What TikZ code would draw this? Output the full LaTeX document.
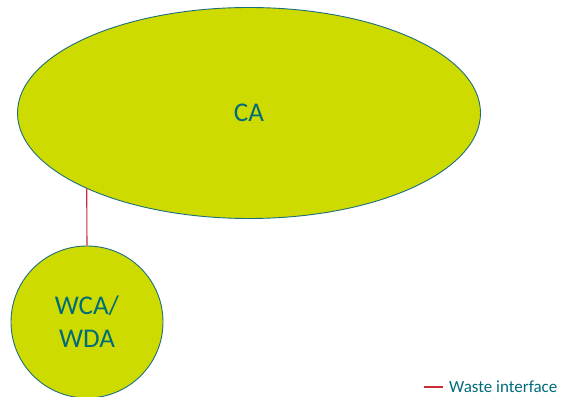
\documentclass[tikz,border=0pt]{standalone}
\usepackage{fontspec}
\setmainfont{Carlito}
\usetikzlibrary{shapes.geometric}
\definecolor{limefill}{RGB}{205,219,0}
\definecolor{tealline}{RGB}{30,110,125}
\definecolor{tealtext}{RGB}{0,108,122}
\definecolor{wastered}{RGB}{200,45,55}
\begin{document}
\begin{tikzpicture}[x=1pt,y=1pt]
            \useasboundingbox (0,0) rectangle (561,396);
            \tikzset{
                body/.style={draw=tealline, fill=limefill, line width=0.9pt, inner sep=0pt, text=tealtext, font=\fontsize{27}{33}\selectfont, align=center},
                waste/.style={draw=wastered, line width=1.1pt}
            }
            \node[body, ellipse, minimum width=463pt, minimum height=211pt] (CA) at (249,283) {CA};
            \node[body, circle, minimum size=152pt] (WCA) at (87,74) {WCA/\\WDA};

            \draw[waste] (WCA.north) -- (CA.205);

            % legend
            \coordinate (L1) at (424,9);
            \coordinate (L2) at (443,9);
            \draw[waste] (L1) -- (L2);
            \node[anchor=west, inner sep=0pt, text=tealtext, font=\fontsize{17}{19}\selectfont] (legend) at (449,9.5) {Waste interface};
        \end{tikzpicture}
\end{document}
